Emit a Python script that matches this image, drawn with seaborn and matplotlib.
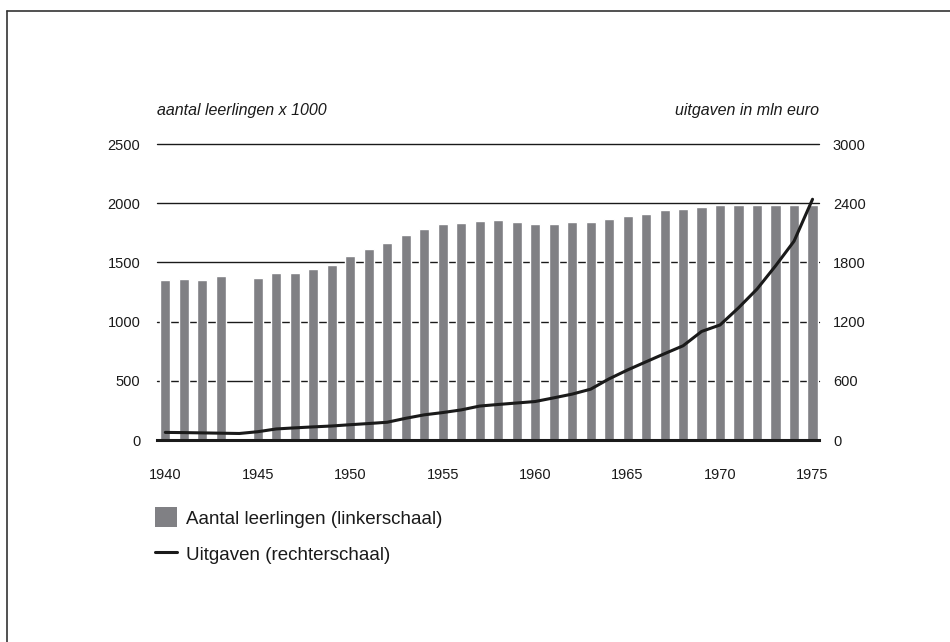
import matplotlib
matplotlib.use("Agg")
import numpy as np
import pandas as pd
import matplotlib.pyplot as plt
from matplotlib.lines import Line2D
from matplotlib.patches import Patch
import seaborn as sns

# Aantal leerlingen x 1000 (1944 ontbreekt)
bar_years = [1940, 1941, 1942, 1943,
             1945, 1946, 1947, 1948, 1949, 1950, 1951, 1952, 1953, 1954,
             1955, 1956, 1957, 1958, 1959, 1960, 1961, 1962, 1963, 1964,
             1965, 1966, 1967, 1968, 1969, 1970, 1971, 1972, 1973, 1974, 1975]
leerlingen = [1351, 1360, 1351, 1385,
              1368, 1410, 1410, 1444, 1478, 1554, 1613, 1664, 1731, 1782,
              1824, 1833, 1850, 1858, 1841, 1824, 1824, 1841, 1841, 1866,
              1892, 1909, 1943, 1951, 1968, 1985, 1987, 1987, 1988, 1988, 1988]

# Uitgaven in mln euro
line_years = list(range(1940, 1976))
uitgaven = [77, 75, 72, 69, 66, 84, 112, 123, 133, 142,
            155, 167, 180, 220, 255, 278, 305, 344, 360, 375,
            390, 427, 465, 515, 620, 710, 793, 875, 955, 1100,
            1166, 1340, 1530, 1765, 2015, 2440]

left_ticks = [0, 500, 1000, 1500, 2000, 2500]
right_ticks = [0, 600, 1200, 1800, 2400, 3000]
x_ticks = [1940, 1945, 1950, 1955, 1960, 1965, 1970, 1975]

BAR_COLOR = "#808084"
INK = "#1a1a1a"
FONT = ["Liberation Sans", "DejaVu Sans"]


def main():
    sns.set_style("white")
    plt.rcParams["font.family"] = FONT

    fig = plt.figure(figsize=(9.5, 6.42), dpi=100)
    ax = fig.add_axes([157 / 950, 1 - 440 / 642, (819 - 157) / 950, (440 - 144) / 642])

    df = pd.DataFrame({"jaar": bar_years, "leerlingen": leerlingen})
    sns.barplot(data=df, x="jaar", y="leerlingen", native_scale=True,
                color=BAR_COLOR, saturation=1, width=0.55, ax=ax, zorder=2)

    ax.set_xlim(1939.55, 1975.35)
    ax.set_ylim(0, 2500)
    ax.set_yticks(left_ticks)
    ax.set_xticks(x_ticks)
    ax.set_xticklabels([str(t) for t in x_ticks])
    ax.set_xlabel("")
    ax.set_ylabel("")
    ax.yaxis.grid(True, color=INK, lw=1.0)
    ax.set_axisbelow(True)
    for gl in ax.get_ygridlines():
        gl.set_clip_on(False)
    for s in ["top", "left", "right"]:
        ax.spines[s].set_visible(False)
    ax.spines["bottom"].set_linewidth(2.2)
    ax.spines["bottom"].set_color(INK)
    ax.tick_params(axis="both", length=0, labelsize=10.5, colors=INK)
    ax.tick_params(axis="y", pad=12)
    ax.tick_params(axis="x", pad=20)

    ax2 = ax.twinx()
    ld = pd.DataFrame({"jaar": line_years, "uitgaven": uitgaven})
    sns.lineplot(data=ld, x="jaar", y="uitgaven", color=INK, lw=2.2, ax=ax2)
    ax2.set_ylim(0, 3000)
    ax2.set_yticks(right_ticks)
    ax2.set_ylabel("")
    ax2.set_xlabel("")
    ax2.grid(False)
    for s in ["top", "left", "right", "bottom"]:
        ax2.spines[s].set_visible(False)
    ax2.tick_params(axis="y", length=0, labelsize=10.5, pad=10, colors=INK)

    fig.text(157 / 950, 1 - 110 / 642, "aantal leerlingen x 1000", fontsize=11.5,
             style="italic", ha="left", va="center", color=INK)
    fig.text(819 / 950, 1 - 110 / 642, "uitgaven in mln euro", fontsize=11.5,
             style="italic", ha="right", va="center", color=INK)

    handles = [Patch(facecolor=BAR_COLOR, edgecolor="none"),
               Line2D([0], [0], color=INK, lw=2.2)]
    labels = ["Aantal leerlingen (linkerschaal)", "Uitgaven (rechterschaal)"]
    fig.legend(handles, labels, loc="upper left",
               bbox_to_anchor=(155 / 950, 1 - 507 / 642), frameon=False,
               fontsize=13.5, handlelength=1.15, handleheight=1.3,
               handletextpad=0.5, labelspacing=0.85, borderpad=0,
               borderaxespad=0, labelcolor=INK)

    # frame lines top and left
    fig.add_artist(Line2D([7 / 950, 1], [1 - 11 / 642] * 2, color="#333333", lw=1.2))
    fig.add_artist(Line2D([7 / 950] * 2, [0, 1 - 11 / 642], color="#333333", lw=1.2))

    fig.savefig("out.png", dpi=100)
    plt.close(fig)


if __name__ == "__main__":
    main()
